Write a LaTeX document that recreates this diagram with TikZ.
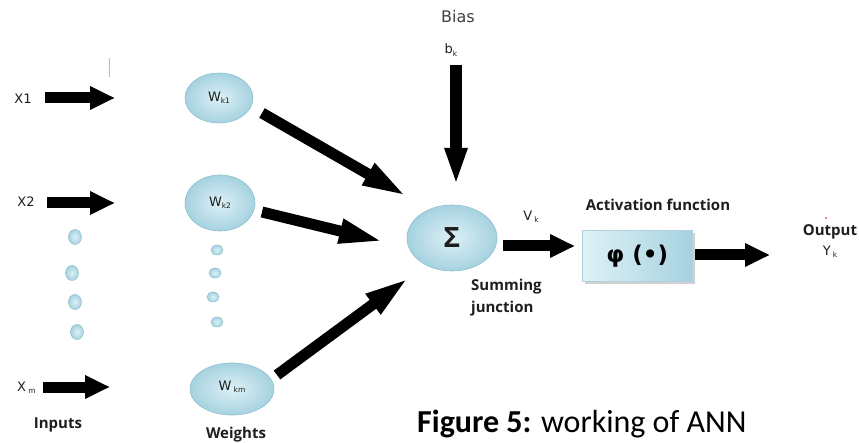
\documentclass[tikz,border=0pt]{standalone}
\usepackage{fontspec}
\setmainfont{Open Sans}
\newfontfamily\capfont{Carlito}
\newfontfamily\labfont{DejaVu Sans}
\usetikzlibrary{shapes.geometric,arrows.meta}

\definecolor{cellin}{HTML}{DCF0F6}
\definecolor{cellout}{HTML}{A6D2E0}
\definecolor{celledge}{HTML}{8DBFCF}
\definecolor{txt}{HTML}{1E1E1E}

\tikzset{
  cell/.style={ellipse, inner sep=0pt, draw=celledge, line width=0.6pt,
    inner color=cellin, outer color=cellout, text=txt},
  bead/.style={ellipse, inner sep=0pt, draw=celledge, line width=0.5pt,
    inner color=cellin, outer color=cellout},
  lab/.style={text=txt, inner sep=0pt, font=\labfont\fontsize{13}{15}\selectfont},
  boldlab/.style={text=txt, inner sep=0pt, font=\bfseries\fontsize{15}{18}\selectfont},
  fat/.style={line width=11pt, line cap=butt, -{Triangle[width=22pt,length=25pt]}},
  fatlong/.style={line width=11pt, line cap=butt, -{Triangle[width=22pt,length=46pt]}},
}
\newcommand{\sbs}[1]{\raisebox{-0.3ex}{\fontsize{7.5}{8}\selectfont #1}}

\begin{document}
\begin{tikzpicture}[x=1pt,y=-1pt]
  \useasboundingbox (0,0) rectangle (859,443);
  \fill[white] (0,0) rectangle (859,443);

  % stray rule mark
  \draw[gray!55, line width=0.8pt] (109,58) -- (109,77);

  % inputs
  \node[lab] (x1) at (23,99) {X1};
  \node[lab] (x2) at (26,202) {X2};
  \node[lab, anchor=west] (xm) at (17,388) {X\,\sbs{m}};
  \node[boldlab] (inputs) at (58,425) {Inputs};

  \node[bead, minimum width=13pt, minimum height=15pt] (ia) at (75,237) {};
  \node[bead, minimum width=13pt, minimum height=15pt] (ib) at (72,273) {};
  \node[bead, minimum width=13pt, minimum height=15pt] (ic) at (75,302) {};
  \node[bead, minimum width=13pt, minimum height=15pt] (id) at (77,332) {};

  % weights
  \node[cell, minimum width=68pt, minimum height=50pt] (w1) at (219,98)
    {\labfont\fontsize{13}{15}\selectfont W\sbs{k1}};
  \node[cell, minimum width=70pt, minimum height=56pt] (w2) at (220,203)
    {\labfont\fontsize{13}{15}\selectfont W\sbs{k2}};
  \node[cell, minimum width=84pt, minimum height=52pt] (wm) at (232,389)
    {\raisebox{1.2ex}{\labfont\fontsize{13}{15}\selectfont W\,\sbs{km}}};
  \node[boldlab] (weights) at (236,435) {Weights};

  \node[bead, minimum width=12pt, minimum height=10pt] (wa) at (217,250) {};
  \node[bead, minimum width=12pt, minimum height=10pt] (wb) at (215,273) {};
  \node[bead, minimum width=12pt, minimum height=10pt] (wc) at (213,297) {};
  \node[bead, minimum width=12pt, minimum height=10pt] (wd) at (217,322) {};

  % summing junction
  \node[cell, minimum width=90pt, minimum height=66pt] (sum) at (452,238)
    {\bfseries\fontsize{28}{32}\selectfont Σ};
  \node[boldlab, anchor=north west, align=left, font=\bfseries\fontsize{15}{22}\selectfont]
    (sumlab) at (471,279) {Summing\\junction};

  % bias
  \node[text=txt!85, inner sep=0pt, font=\labfont\fontsize{16}{18}\selectfont] (bias) at (458,17) {Bias};
  \node[lab] (bk) at (451,50) {b\sbs{k}};

  % activation
  \node[lab] (vk) at (531,217) {V\,\sbs{k}};
  \node[boldlab] (actlab) at (658,205) {Activation function};
  \fill[black!18] (585,233) rectangle (695,284);
  \node[draw=celledge!70, line width=0.4pt, left color=cellin!90!white, right color=cellout,
        minimum width=110pt, minimum height=51pt, inner sep=0pt, anchor=north west]
    (phi) at (582,230) {\labfont\bfseries\fontsize{23}{26}\selectfont φ (\textbullet)};

  % output
  \node[boldlab] (out) at (830,232) {Output};
  \node[lab] (yk) at (830,252) {Y\,\sbs{k}};
  \fill[red!80!black] (826,218) circle (0.9pt);

  % arrow end points
  \coordinate (x1s) at (45,98);   \coordinate (x1e) at (115,98);
  \coordinate (x2s) at (47,203);  \coordinate (x2e) at (115,203);
  \coordinate (xms) at (43,387);  \coordinate (xme) at (110,387);
  \coordinate (w1s) at (262,113); \coordinate (w1e) at (408,197);
  \coordinate (w2s) at (262,212); \coordinate (w2e) at (385,242);
  \coordinate (wms) at (277,375); \coordinate (wme) at (410,277);
  \coordinate (bs) at (456,65);   \coordinate (be) at (456,197);
  \coordinate (ss) at (503,246);  \coordinate (se) at (575,246);
  \coordinate (ps) at (695,255);  \coordinate (pe) at (770,255);

  % arrows
  \draw[fat] (x1s) -- (x1e);
  \draw[fat] (x2s) -- (x2e);
  \draw[fat] (xms) -- (xme);
  \draw[fatlong] (w1s) -- (w1e);
  \draw[fatlong] (w2s) -- (w2e);
  \draw[fatlong] (wms) -- (wme);
  \draw[line width=12pt, line cap=butt, -{Triangle[width=18pt,length=49pt]}] (bs) -- (be);
  \draw[fat] (ss) -- (se);
  \draw[fat] (ps) -- (pe);

  % caption
  \node[anchor=base west, inner sep=0pt, font=\capfont\fontsize{32}{36}\selectfont] (cap) at (417,432)
    {\textbf{Figure 5:} working of ANN};
\end{tikzpicture}
\end{document}
